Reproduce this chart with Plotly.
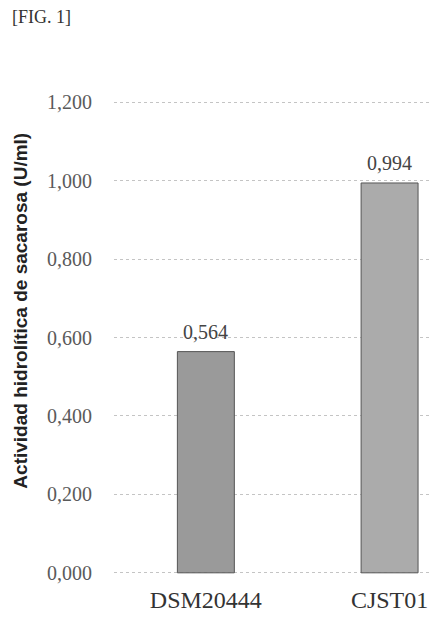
import plotly.graph_objects as go

categories = ["DSM20444", "CJST01"]
values = [0.564, 0.994]
tick_vals = [0.0, 0.2, 0.4, 0.6, 0.8, 1.0, 1.2]
tick_text = ["0,000", "0,200", "0,400", "0,600", "0,800", "1,000", "1,200"]
bar_colors = ["#9a9a9a", "#ababab"]

labels = [f"{v:.3f}".replace(".", ",") for v in values]

W, H = 440, 628
OFF = 8
L, R, T, B = 105.5, 8, 93, 62


def px(page_x):
    return (page_x - OFF - L) / (W - L - R)


def py(page_y):
    return 1 - (page_y - OFF - T) / (H - T - B)


fig = go.Figure()
fig.add_trace(go.Bar(
    x=categories, y=values, width=0.31,
    marker=dict(color=bar_colors, line=dict(color="#555555", width=1)),
))

annotations = [
    dict(text="[FIG. 1]", x=px(9), y=py(17), xref="paper", yref="paper",
         xanchor="left", yanchor="middle", showarrow=False,
         font=dict(family="Liberation Serif", size=18, color="#333333")),
    dict(text="<b>Actividad hidrolítica de sacarosa (U/ml)</b>",
         x=px(19), y=py(311), xref="paper", yref="paper",
         xanchor="center", yanchor="middle", textangle=-90, showarrow=False,
         font=dict(family="Liberation Sans", size=19, color="#222222")),
]
for c, v, t in zip(categories, values, labels):
    annotations.append(dict(
        text=t, x=c, y=v, xref="x", yref="y", xanchor="center", yanchor="bottom",
        yshift=7, showarrow=False,
        font=dict(family="Liberation Serif", size=20, color="#444444")))

fig.update_layout(
    width=W, height=H,
    margin=dict(l=L, r=R, t=T, b=B),
    paper_bgcolor="white", plot_bgcolor="white",
    showlegend=False,
    annotations=annotations,
)

fig.update_xaxes(
    range=[-0.5, -0.5 + (W - L - R) / 184],
    showgrid=False, zeroline=False, showline=False,
    ticks="outside", ticklen=4, tickcolor="rgba(0,0,0,0)",
    tickfont=dict(family="Liberation Serif", size=24, color="#333333"),
)
fig.update_yaxes(
    range=[-0.003, 1.203],
    tickvals=tick_vals, ticktext=tick_text,
    showgrid=True, gridcolor="#c4c4c4", griddash="dot", gridwidth=1,
    zeroline=False, showline=False,
    ticks="outside", ticklen=17, tickcolor="rgba(0,0,0,0)",
    tickfont=dict(family="Liberation Serif", size=20, color="#5a5a5a"),
)

fig.write_html("out.html")
